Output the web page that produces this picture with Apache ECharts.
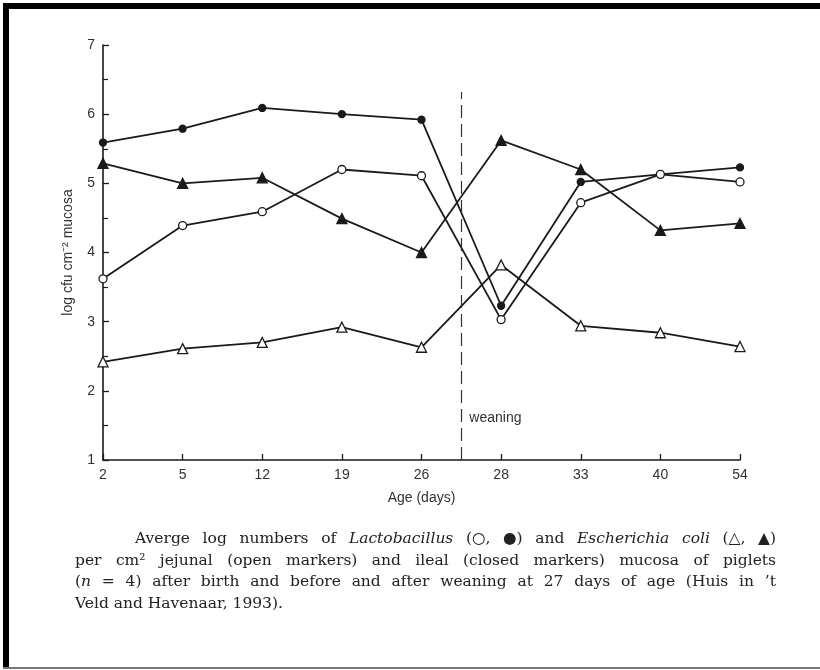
<!DOCTYPE html>
<html>
<head>
<meta charset="utf-8">
<script src="https://cdn.jsdelivr.net/npm/echarts@6/dist/echarts.min.js"></script>
<style>
  html, body { margin: 0; padding: 0; background: #fff; }
  #graph { width: 820px; height: 670px; }
</style>
</head>
<body>
<div id="graph"></div>
<script>
// ages at sampling (days), evenly spaced on the axis
const ages = ['2', '5', '12', '19', '26', '28', '33', '40', '54'];
// Lactobacillus, jejunal (open circles) / ileal (closed circles)
const lactoJejunal = [3.62, 4.39, 4.59, 5.2, 5.11, 3.03, 4.72, 5.13, 5.02];
const lactoIleal = [5.59, 5.79, 6.09, 6.0, 5.92, 3.23, 5.02, 5.13, 5.23];
// E. coli, jejunal (open triangles) / ileal (closed triangles)
const coliJejunal = [2.42, 2.61, 2.7, 2.92, 2.63, 3.82, 2.94, 2.84, 2.64];
const coliIleal = [5.29, 5.0, 5.08, 4.49, 4.0, 5.62, 5.2, 4.32, 4.42];
const yRange = [1, 7];
const weaningAt = 4.5;   // between day 26 and day 28
const weaningTop = 6.32;

const captionLines = [
  [['Averge log numbers of '], ['Lactobacillus', 1], [' (\u25CB, \u25CF) and '], ['Escherichia coli', 1], [' (\u25B3, \u25B2)']],
  [['per cm\u00B2 jejunal (open markers) and ileal (closed markers) mucosa of piglets']],
  [['('], ['n', 1], [' = 4) after birth and before and after weaning at 27 days of age (Huis in \u2019t']],
  [['Veld and Havenaar, 1993).']]
];

const ink = '#1a1a1a';

function makeSeries(name, values, symbol, filled, size) {
  return {
    name: name,
    type: 'line',
    data: values.map((v, i) => [i, v]),
    symbol: symbol,
    symbolSize: size,
    showAllSymbol: true,
    lineStyle: { color: ink, width: 1.8 },
    itemStyle: { color: filled ? ink : '#fff', borderColor: ink, borderWidth: 1.3 },
    z: filled ? 3 : 4
  };
}

function captionGraphics() {
  const ctx = document.createElement('canvas').getContext('2d');
  const base = '15.5px "DejaVu Serif"';
  const ital = 'italic 15.5px "DejaVu Serif"';
  const starts = [135, 75, 75, 75];
  const right = 776;
  const ys = [539, 561, 582, 604];
  const out = [];
  captionLines.forEach((line, li) => {
    const words = [];
    line.forEach(([txt, it]) => {
      txt.split(' ').forEach((w, k) => {
        if (k > 0) words.push(null);
        if (w) words.push({ w: w, it: !!it });
      });
    });
    const groups = [];
    let cur = [];
    words.forEach((w) => {
      if (w === null) { if (cur.length) groups.push(cur); cur = []; }
      else cur.push(w);
    });
    if (cur.length) groups.push(cur);
    const widths = groups.map(g => g.reduce((s, p) => {
      ctx.font = p.it ? ital : base; return s + ctx.measureText(p.w).width;
    }, 0));
    ctx.font = base;
    const spaceW = ctx.measureText(' ').width;
    const total = widths.reduce((a, b) => a + b, 0);
    const justify = li < captionLines.length - 1;
    const gap = justify ? (right - starts[li] - total) / (groups.length - 1) : spaceW;
    let x = starts[li];
    groups.forEach((g, gi) => {
      let px = x;
      g.forEach((p) => {
        ctx.font = p.it ? ital : base;
        out.push({
          type: 'text', x: px, y: ys[li], silent: true,
          style: { text: p.w, font: p.it ? ital : base, fill: '#222', verticalAlign: 'middle' }
        });
        px += ctx.measureText(p.w).width;
      });
      x += widths[gi] + gap;
    });
  });
  return out;
}

const chart = echarts.init(document.getElementById('graph'), null, { renderer: 'canvas' });

const option = {
  backgroundColor: '#fff',
  animation: false,
  grid: { left: 103, right: 80, top: 45, bottom: 210 },
  xAxis: {
    type: 'value',
    min: 0,
    max: ages.length - 1,
    interval: 1,
    name: 'Age (days)',
    nameLocation: 'middle',
    nameGap: 31,
    nameTextStyle: { fontFamily: 'Liberation Sans', fontSize: 14, color: '#333' },
    axisLine: { lineStyle: { color: ink, width: 1.6 } },
    axisTick: { inside: true, length: 6, lineStyle: { color: ink, width: 1.3 } },
    axisLabel: {
      fontFamily: 'Liberation Sans', fontSize: 14, color: '#333', margin: 8,
      formatter: (v) => ages[v]
    },
    splitLine: { show: false }
  },
  yAxis: {
    type: 'value',
    min: yRange[0],
    max: yRange[1],
    interval: 1,
    name: 'log cfu cm\u207B\u00B2 mucosa',
    nameLocation: 'middle',
    nameGap: 28,
    nameRotate: 90,
    nameTextStyle: { fontFamily: 'Liberation Sans', fontSize: 14, color: '#333' },
    axisLine: { show: true, lineStyle: { color: ink, width: 1.6 } },
    axisTick: { show: true, inside: true, length: 6, lineStyle: { color: ink, width: 1.3 } },
    minorTick: { show: true, splitNumber: 2, length: 5, lineStyle: { color: ink, width: 1.2 } },
    axisLabel: { fontFamily: 'Liberation Sans', fontSize: 14, color: '#333', margin: 8 },
    splitLine: { show: false }
  },
  series: [
    Object.assign(makeSeries('Lactobacillus ileal', lactoIleal, 'circle', true, 7), {
      markLine: {
        silent: true,
        symbol: 'none',
        label: { show: false },
        lineStyle: { color: '#333', type: [13, 6], width: 1.2 },
        data: [[{ coord: [weaningAt, yRange[0]] }, { coord: [weaningAt, weaningTop] }]]
      },
      markPoint: {
        silent: true,
        symbol: 'rect',
        symbolSize: [0, 0],
        data: [{ coord: [weaningAt, 1.6] }],
        label: {
          show: true, position: 'right', distance: 8, formatter: 'weaning',
          fontFamily: 'Liberation Sans', fontSize: 14, color: '#333'
        }
      }
    }),
    makeSeries('Lactobacillus jejunal', lactoJejunal, 'circle', false, 8),
    makeSeries('E. coli ileal', coliIleal, 'triangle', true, 10),
    makeSeries('E. coli jejunal', coliJejunal, 'triangle', false, 10)
  ],
  graphic: [
    { type: 'rect', shape: { x: 3, y: 3, width: 817, height: 6 }, style: { fill: '#000' }, silent: true },
    { type: 'rect', shape: { x: 3, y: 3, width: 6, height: 665 }, style: { fill: '#000' }, silent: true },
    { type: 'rect', shape: { x: 3, y: 667, width: 817, height: 2 }, style: { fill: '#777' }, silent: true }
  ].concat(captionGraphics())
};

chart.setOption(option);
</script>
</body>
</html>
